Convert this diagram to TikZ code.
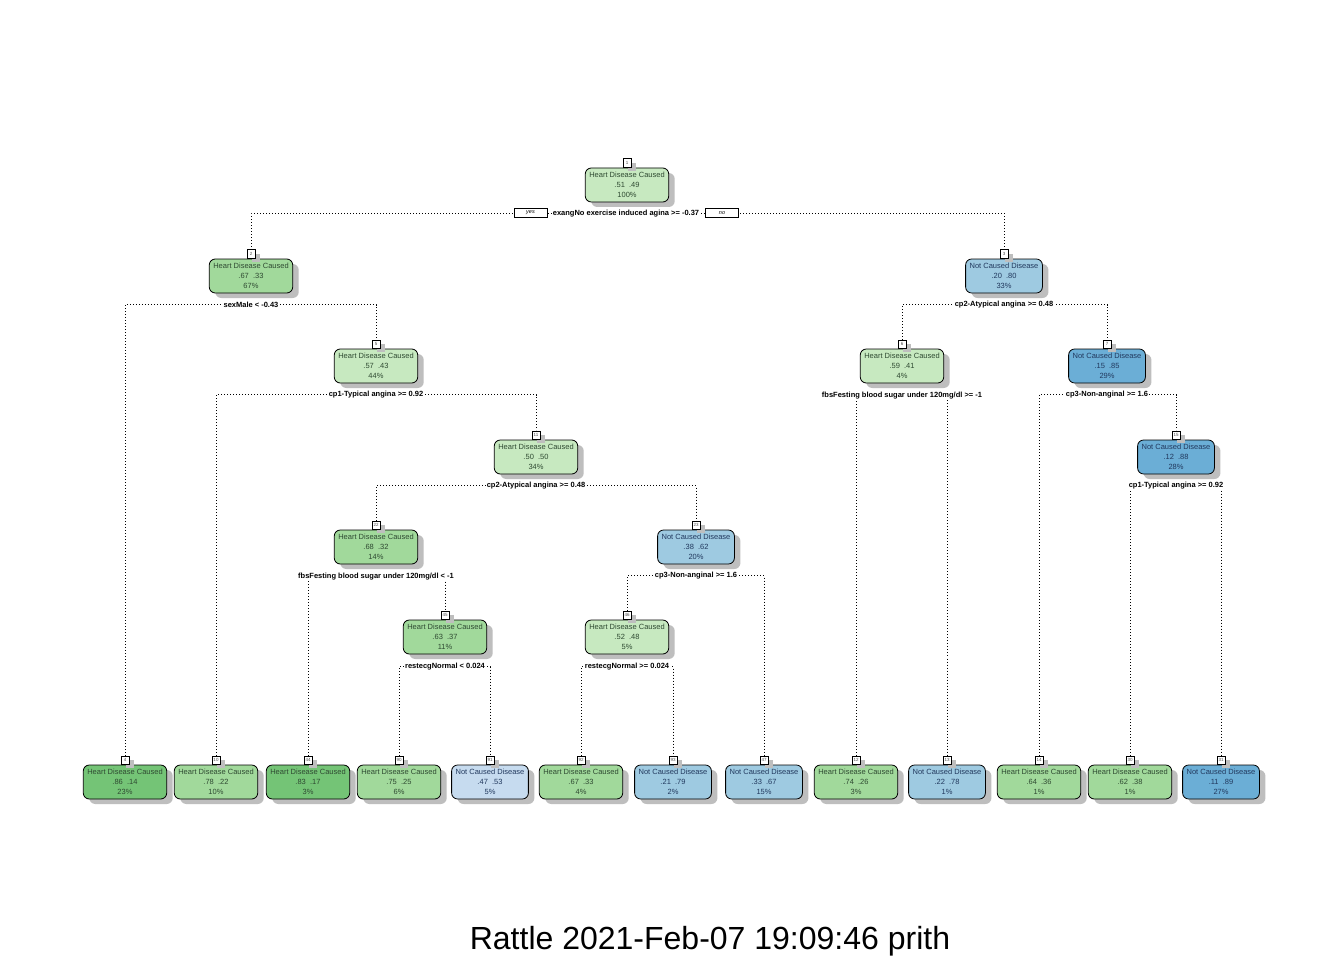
\documentclass[tikz,border=0pt]{standalone}
\usepackage{fontspec}
\setmainfont{Liberation Sans}
\usetikzlibrary{shadows}
\definecolor{gA}{HTML}{C7E9C0}
\definecolor{gB}{HTML}{A1D99B}
\definecolor{gC}{HTML}{74C476}
\definecolor{bA}{HTML}{C6DBEF}
\definecolor{bB}{HTML}{9ECAE1}
\definecolor{bC}{HTML}{6BAED6}
\definecolor{tg}{HTML}{2F4A32}
\definecolor{tb}{HTML}{22395E}
\definecolor{shd}{HTML}{BEBEBE}
\pgfdeclarelayer{back}
\pgfdeclarelayer{bg}
\pgfsetlayers{back,bg,main}
\tikzset{
  tnode/.style={draw=black, line width=0.8pt, rounded corners=6pt, align=center,
    font=\fontsize{7.5}{10}\selectfont, inner xsep=4pt, inner ysep=2pt,
    minimum height=34pt,
    drop shadow={shadow xshift=6pt, shadow yshift=-5pt, fill=shd, opacity=1}},
  numbox/.style={draw=black, line width=0.6pt, fill=white, anchor=south,
    font=\fontsize{4.5}{5}\selectfont, text=gray!60!black, inner sep=0.5pt,
    minimum width=8pt, minimum height=8.5pt,
    drop shadow={shadow xshift=5pt, shadow yshift=-4pt, fill=shd, opacity=1}},
  split/.style={fill=white, font=\bfseries\fontsize{7.5}{9}\selectfont, inner xsep=1pt, inner ysep=1pt},
  ynbox/.style={draw=black, line width=0.6pt, fill=white, font=\itshape\fontsize{5.5}{6}\selectfont,
    minimum width=33pt, minimum height=9pt, inner sep=0pt},
  conn/.style={line width=0.8pt, dash pattern=on 0.8pt off 2.2pt},
}
\newcommand\tn[9]{%
  \node[tnode, fill=#4, text=#5] (#1) at (#2,#3) {#6\\#7\\#8};
  \node[numbox] (#1num) at (#1.north) {#9};
}
\begin{document}
\begin{tikzpicture}[x=1pt,y=-1pt]
\begin{pgfonlayer}{back}
\fill[white] (0,0) rectangle (1344,960);
\end{pgfonlayer}
\useasboundingbox (0,0) rectangle (1344,960);
% internal nodes
\tn{n1}{627}{185}{gA}{tg}{Heart Disease Caused}{.51~~.49}{100\%}{1}
\tn{n2}{251}{276}{gB}{tg}{Heart Disease Caused}{.67~~.33}{67\%}{2}
\tn{n3}{1004}{276}{bB}{tb}{Not Caused Disease}{.20~~.80}{33\%}{3}
\tn{n5}{376}{366}{gA}{tg}{Heart Disease Caused}{.57~~.43}{44\%}{5}
\tn{n6}{902}{366}{gA}{tg}{Heart Disease Caused}{.59~~.41}{4\%}{6}
\tn{n7}{1107}{366}{bC}{tb}{Not Caused Disease}{.15~~.85}{29\%}{7}
\tn{n11}{536}{457}{gA}{tg}{Heart Disease Caused}{.50~~.50}{34\%}{11}
\tn{n15}{1176}{457}{bC}{tb}{Not Caused Disease}{.12~~.88}{28\%}{15}
\tn{n22}{376}{547}{gB}{tg}{Heart Disease Caused}{.68~~.32}{14\%}{22}
\tn{n23}{696}{547}{bB}{tb}{Not Caused Disease}{.38~~.62}{20\%}{23}
\tn{n45}{445}{637}{gB}{tg}{Heart Disease Caused}{.63~~.37}{11\%}{45}
\tn{n46}{627}{637}{gA}{tg}{Heart Disease Caused}{.52~~.48}{5\%}{46}
% leaves
\tn{n4}{125}{782}{gC}{tg}{Heart Disease Caused}{.86~~.14}{23\%}{4}
\tn{n10}{216}{782}{gB}{tg}{Heart Disease Caused}{.78~~.22}{10\%}{10}
\tn{n44}{308}{782}{gC}{tg}{Heart Disease Caused}{.83~~.17}{3\%}{44}
\tn{n90}{399}{782}{gB}{tg}{Heart Disease Caused}{.75~~.25}{6\%}{90}
\tn{n91}{490}{782}{bA}{tb}{Not Caused Disease}{.47~~.53}{5\%}{91}
\tn{n92}{581}{782}{gB}{tg}{Heart Disease Caused}{.67~~.33}{4\%}{92}
\tn{n93}{673}{782}{bB}{tb}{Not Caused Disease}{.21~~.79}{2\%}{93}
\tn{n47}{764}{782}{bB}{tb}{Not Caused Disease}{.33~~.67}{15\%}{47}
\tn{n12}{856}{782}{gB}{tg}{Heart Disease Caused}{.74~~.26}{3\%}{12}
\tn{n13}{947}{782}{bB}{tb}{Not Caused Disease}{.22~~.78}{1\%}{13}
\tn{n14}{1039}{782}{gB}{tg}{Heart Disease Caused}{.64~~.36}{1\%}{14}
\tn{n30}{1130}{782}{gB}{tg}{Heart Disease Caused}{.62~~.38}{1\%}{30}
\tn{n31}{1221}{782}{bC}{tb}{Not Caused Disease}{.11~~.89}{27\%}{31}
% split labels
\node[split] (s1) at (626,213.5) {exangNo exercise induced agina >= -0.37};
\node[ynbox] (yes) at (530.5,213) {yes};
\node[ynbox] (no) at (722,213) {no};
\node[split] (s2) at (251,304.5) {sexMale < -0.43};
\node[split] (s3) at (1004,304.5) {cp2-Atypical angina >= 0.48};
\node[split] (s5) at (376,394.5) {cp1-Typical angina >= 0.92};
\node[split] (s6) at (902,395.5) {fbsFesting blood sugar under 120mg/dl >= -1};
\node[split] (s7) at (1107,394.5) {cp3-Non-anginal >= 1.6};
\node[split] (s11) at (536,485.5) {cp2-Atypical angina >= 0.48};
\node[split] (s15) at (1176,485.5) {cp1-Typical angina >= 0.92};
\node[split] (s22) at (376,576.5) {fbsFesting blood sugar under 120mg/dl < -1};
\node[split] (s23) at (696,575.5) {cp3-Non-anginal >= 1.6};
\node[split] (s45) at (445,666.5) {restecgNormal < 0.024};
\node[split] (s46) at (627,666.5) {restecgNormal >= 0.024};
% connectors
\begin{pgfonlayer}{bg}
\draw[conn] (n2num.north) |- (s1.center) -| (n3num.north);
\draw[conn] (n4num.north) |- (s2.center) -| (n5num.north);
\draw[conn] (n10num.north) |- (s5.center) -| (n11num.north);
\draw[conn] (n22num.north) |- (s11.center) -| (n23num.north);
\draw[conn] (n44num.north) |- (s22.center) -| (n45num.north);
\draw[conn] (n90num.north) |- (s45.center) -| (n91num.north);
\draw[conn] (n46num.north) |- (s23.center) -| (n47num.north);
\draw[conn] (n92num.north) |- (s46.center) -| (n93num.north);
\draw[conn] (n6num.north) |- (s3.center) -| (n7num.north);
\draw[conn] (n12num.north) |- (s6.center) -| (n13num.north);
\draw[conn] (n14num.north) |- (s7.center) -| (n15num.north);
\draw[conn] (n30num.north) |- (s15.center) -| (n31num.north);
\end{pgfonlayer}
% title
\node[font=\fontsize{32}{38}\selectfont, anchor=base, inner sep=0pt] (title) at (710,949) {Rattle 2021-Feb-07 19:09:46 prith};
\end{tikzpicture}
\end{document}
